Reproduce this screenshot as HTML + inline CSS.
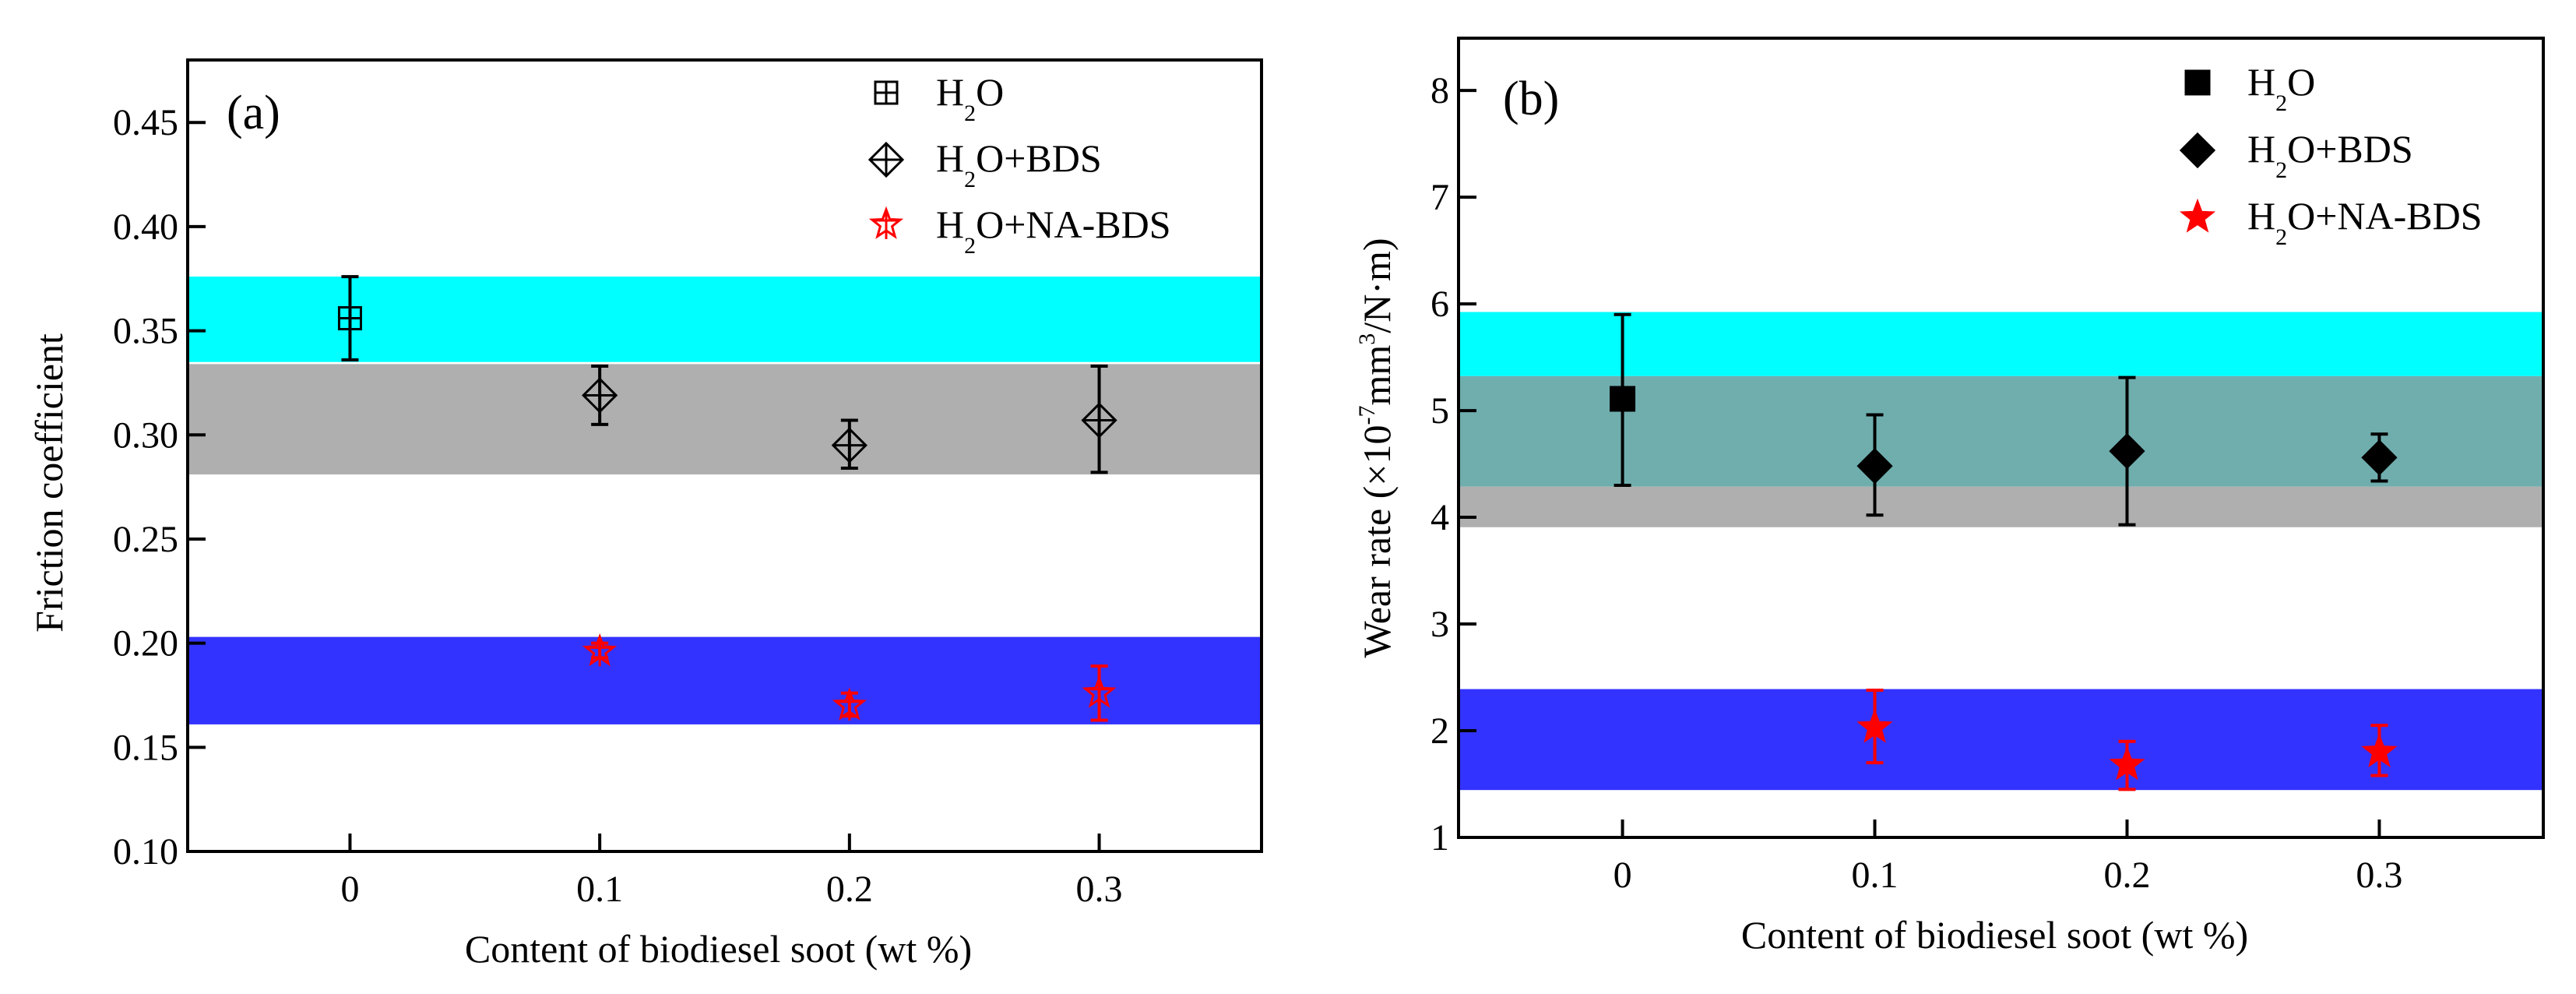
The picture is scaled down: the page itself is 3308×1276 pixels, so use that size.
<!DOCTYPE html>
<html><head><meta charset="utf-8"><style>
html,body{margin:0;padding:0;background:#fff;}
svg{display:block;font-family:"Liberation Serif",serif;}
svg text{font-family:"Liberation Serif",serif;}
</style></head><body>
<svg id="fig" width="3308" height="1276" viewBox="0 0 3308 1276" xmlns="http://www.w3.org/2000/svg" font-family="Liberation Serif, serif">
<g id="pa"></g>
<g id="pb"></g>
</svg>
<script>
// shared categories
const categories = [0, 0.1, 0.2, 0.3];
const xTickLabels = ["0", "0.1", "0.2", "0.3"];

// panel a data
const aH2O = [0.356];
const aH2OErr = [0.020];
const aBDS = [0.319, 0.295, 0.307];
const aBDSLo = [0.305, 0.284, 0.282];
const aBDSHi = [0.333, 0.307, 0.333];
const aNA = [0.196, 0.170, 0.176];
const aNALo = [0.193, 0.165, 0.163];
const aNAHi = [0.200, 0.176, 0.189];
const aBandLo = [0.335, 0.281, 0.161];
const aBandHi = [0.376, 0.334, 0.203];
const aYTicks = [0.10, 0.15, 0.20, 0.25, 0.30, 0.35, 0.40, 0.45];
const aYTickLabels = ["0.10","0.15","0.20","0.25","0.30","0.35","0.40","0.45"];

// panel b data
const bH2O = [5.11];
const bH2OLo = [4.30];
const bH2OHi = [5.90];
const bBDS = [4.48, 4.62, 4.56];
const bBDSLo = [4.02, 3.93, 4.34];
const bBDSHi = [4.96, 5.31, 4.78];
const bNA = [2.03, 1.68, 1.80];
const bNALo = [1.70, 1.45, 1.58];
const bNAHi = [2.38, 1.90, 2.05];
const bBandLo = [5.323, 3.907, 4.288, 1.444];
const bBandHi = [5.924, 4.288, 5.323, 2.390];
const bYTicks = [1,2,3,4,5,6,7,8];
const bYTickLabels = ["1","2","3","4","5","6","7","8"];

const NS = "http://www.w3.org/2000/svg";
const FF = '"Liberation Serif", serif';
function mk(parent, tag, attrs, text){
  const e = document.createElementNS(NS, tag);
  for (const k in attrs) e.setAttribute(k, attrs[k]);
  if (tag === "text") e.setAttribute("font-family", FF);
  if (text !== undefined) e.textContent = text;
  parent.appendChild(e);
  return e;
}
function linear(d0,d1,r0,r1){ return v => r0 + (v-d0)/(d1-d0)*(r1-r0); }

function star(cx,cy,R){
  let p=[];
  for(let i=0;i<10;i++){const r=i%2?R*0.42:R;const a=-Math.PI/2+i*Math.PI/5;p.push((cx+r*Math.cos(a)).toFixed(1)+","+(cy+r*Math.sin(a)).toFixed(1));}
  return p.join(" ");
}

function drawMarker(g, kind, cx, cy, filled){
  let el;
  if(kind==="square"){
    const s = filled?30:28;
    el = mk(g,"rect",{x:cx-s/2,y:cy-s/2,width:s,height:s,fill:filled?"#000":"none",stroke:"#000","stroke-width":3});
    if(!filled){
      mk(g,"line",{x1:cx-s/2,y1:cy,x2:cx+s/2,y2:cy,stroke:"#000","stroke-width":3});
      mk(g,"line",{x1:cx,y1:cy-s/2,x2:cx,y2:cy+s/2,stroke:"#000","stroke-width":3});
    }
  } else if(kind==="diamond"){
    const w=21,h=21;
    el = mk(g,"polygon",{points:`${cx},${cy-h} ${cx+w},${cy} ${cx},${cy+h} ${cx-w},${cy}`,fill:filled?"#000":"none",stroke:"#000","stroke-width":3});
    if(!filled){
      mk(g,"line",{x1:cx-w,y1:cy,x2:cx+w,y2:cy,stroke:"#000","stroke-width":3});
      mk(g,"line",{x1:cx,y1:cy-h,x2:cx,y2:cy+h,stroke:"#000","stroke-width":3});
    }
  } else {
    el = mk(g,"polygon",{points:star(cx,cy,filled?20:19),fill:filled?"#ff0000":"none",stroke:"#ff0000","stroke-width":3});
    if(!filled){
      mk(g,"line",{x1:cx-17,y1:cy-5,x2:cx+17,y2:cy-5,stroke:"#ff0000","stroke-width":3});
      mk(g,"line",{x1:cx,y1:cy-19,x2:cx,y2:cy+19,stroke:"#ff0000","stroke-width":3});
    }
  }
  return el;
}

function errBar(g, x, ylo, yhi, color){
  mk(g,"line",{x1:x,y1:ylo,x2:x,y2:yhi,stroke:color,"stroke-width":4});
  mk(g,"line",{x1:x-11,y1:ylo,x2:x+11,y2:ylo,stroke:color,"stroke-width":4});
  mk(g,"line",{x1:x-11,y1:yhi,x2:x+11,y2:yhi,stroke:color,"stroke-width":4});
}

function legendText(g, x, y, rest){
  const t = mk(g,"text",{x:x,y:y,"font-size":50,fill:"#000"});
  const a = document.createElementNS(NS,"tspan"); a.textContent="H"; t.appendChild(a);
  const b = document.createElementNS(NS,"tspan"); b.setAttribute("font-size","30"); b.setAttribute("dy","20"); b.textContent="2"; t.appendChild(b);
  const c = document.createElementNS(NS,"tspan"); c.setAttribute("dy","-20"); c.textContent="O"+rest; t.appendChild(c);
  return t;
}

function panel(g, cfg){
  const X = linear(-0.065, 0.365, cfg.L, cfg.R);
  const Y = linear(cfg.y0, cfg.y1, cfg.B, cfg.T);
  for(let i=0;i<cfg.bandLo.length;i++){
    const r = mk(g,"rect",{x:cfg.L,y:Y(cfg.bandHi[i]),width:cfg.R-cfg.L,height:Y(cfg.bandLo[i])-Y(cfg.bandHi[i]),fill:cfg.bandColors[i]});
    
    
  }
  const fr = mk(g,"rect",{x:cfg.L,y:cfg.T,width:cfg.R-cfg.L,height:cfg.B-cfg.T,fill:"none",stroke:"#000","stroke-width":4});
  
  
  cfg.yTicks.forEach((v,i)=>{
    const y = Y(v);
    mk(g,"line",{x1:cfg.L,y1:y,x2:cfg.L+23,y2:y,stroke:"#000","stroke-width":4});
    const t = mk(g,"text",{x:cfg.L-12,y:y+16,"font-size":48,"text-anchor":"end",fill:"#000"},cfg.yTickLabels[i]);
    
    
  });
  categories.forEach((v,i)=>{
    const x = X(v);
    mk(g,"line",{x1:x,y1:cfg.B,x2:x,y2:cfg.B-23,stroke:"#000","stroke-width":4});
    const t = mk(g,"text",{x:x,y:cfg.B+64,"font-size":48,"text-anchor":"middle",fill:"#000"},xTickLabels[i]);
    
    
  });
  const h = cfg.h2o;
  errBar(g, X(categories[0]), Y(h.lo[0]), Y(h.hi[0]), "#000");
  const m0 = drawMarker(g, "square", X(categories[0]), Y(h.v[0]), cfg.filled);
  
  
  cfg.bds.v.forEach((v,i)=>{
    const x = X(categories[i+1]);
    errBar(g, x, Y(cfg.bds.lo[i]), Y(cfg.bds.hi[i]), "#000");
    const m = drawMarker(g, "diamond", x, Y(v), cfg.filled);
    
    
  });
  cfg.na.v.forEach((v,i)=>{
    const x = X(categories[i+1]);
    errBar(g, x, Y(cfg.na.lo[i]), Y(cfg.na.hi[i]), "#ff0000");
    const m = drawMarker(g, "star", x, Y(v), cfg.filled);
    
    
  });
  const lg = mk(g,"g",{});
  
  
  const kinds=["square","diamond","star"], rests=["","+BDS","+NA-BDS"];
  for(let i=0;i<3;i++){
    drawMarker(lg, kinds[i], cfg.legX, cfg.legY[i], cfg.filled);
    const t = legendText(lg, cfg.legTX, cfg.legBase[i], rests[i]);
    
    
  }
  const pl = mk(g,"text",{x:cfg.labX,y:cfg.labY,"font-size":62,fill:"#000"},cfg.label);
  
  
  const xt = mk(g,"text",{x:(cfg.L+cfg.R)/2-8,y:cfg.B+142,"font-size":50,"text-anchor":"middle",fill:"#000"},"Content of biodiesel soot (wt %)");
  
  
}

const pa = document.getElementById("pa");
panel(pa,{L:241,R:1620,T:77,B:1093,y0:0.10,y1:0.48,
  bandLo:aBandLo,bandHi:aBandHi,bandColors:["#00ffff","#afafaf","#3333ff"],
  yTicks:aYTicks,yTickLabels:aYTickLabels,filled:false,
  h2o:{v:aH2O,lo:[aH2O[0]-aH2OErr[0]],hi:[aH2O[0]+aH2OErr[0]]},
  bds:{v:aBDS,lo:aBDSLo,hi:aBDSHi},na:{v:aNA,lo:aNALo,hi:aNAHi},
  legX:1138,legY:[119,205,288],legTX:1202,legBase:[135,220,305],
  label:"(a)",labX:291,labY:165});
const ya = mk(pa,"text",{x:0,y:0,"font-size":50,"text-anchor":"middle",fill:"#000",transform:"translate(80,620) rotate(-90)"},"Friction coefficient");



const pb = document.getElementById("pb");
panel(pb,{L:1873,R:3266,T:49,B:1075,y0:1,y1:8.49,
  bandLo:bBandLo,bandHi:bBandHi,bandColors:["#00ffff","#afafaf","#70aeae","#3333ff"],
  yTicks:bYTicks,yTickLabels:bYTickLabels,filled:true,
  h2o:{v:bH2O,lo:bH2OLo,hi:bH2OHi},
  bds:{v:bBDS,lo:bBDSLo,hi:bBDSHi},na:{v:bNA,lo:bNALo,hi:bNAHi},
  legX:2822,legY:[106,193,279],legTX:2886,legBase:[122,208,294],
  label:"(b)",labX:1930,labY:147});
const yb = mk(pb,"text",{x:0,y:0,"font-size":50,"text-anchor":"middle",fill:"#000",transform:"translate(1785,575) rotate(-90)"});


[["Wear rate (×10",0],["-7",-20,30],["mm",20],["3",-20,30],["/N·m)",20]].forEach(p=>{
  const s=document.createElementNS(NS,"tspan");
  s.setAttribute("dy",p[1]);
  if(p[2]) s.setAttribute("font-size",p[2]);
  s.textContent=p[0];
  yb.appendChild(s);
});
</script>
</body></html>
